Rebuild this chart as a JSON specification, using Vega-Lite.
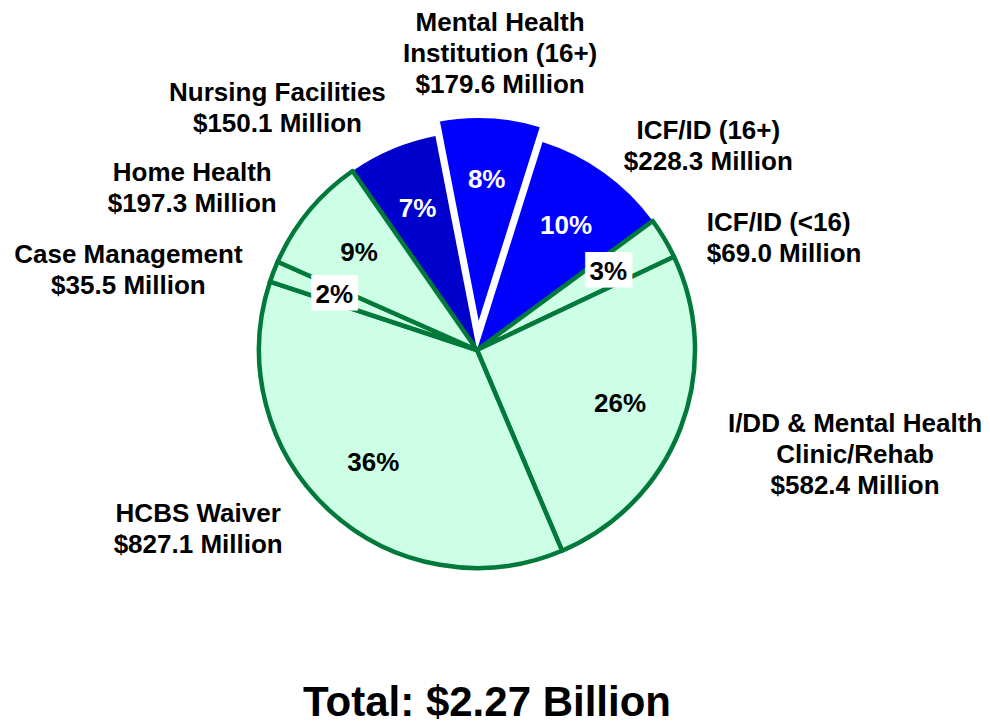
{
  "$schema": "https://vega.github.io/schema/vega-lite/v6.json",
  "width": 954,
  "height": 700,
  "autosize": {"type": "none"},
  "padding": {"left": 0, "top": 0, "right": 36, "bottom": 21},
  "background": "white",
  "config": {"view": {"stroke": null}, "text": {"font": "Liberation Sans", "fontWeight": "bold"}},
  "title": {"text": "Total: $2.27 Billion", "orient": "bottom", "anchor": "middle", "font": "Liberation Sans", "fontWeight": "bold", "fontSize": 42, "color": "black", "baseline": "alphabetic", "offset": 16, "dx": 10},
  "data": {"values": [
    {"order": 1, "category": "Mental Health Institution (16+)", "name": "Mental Health|Institution (16+)", "amount": 179.6, "setting": "Institutional"},
    {"order": 2, "category": "ICF/ID (16+)", "name": "ICF/ID (16+)", "amount": 228.3, "setting": "Institutional"},
    {"order": 3, "category": "ICF/ID (<16)", "name": "ICF/ID (<16)", "amount": 69.0, "setting": "Community"},
    {"order": 4, "category": "I/DD & Mental Health Clinic/Rehab", "name": "I/DD & Mental Health|Clinic/Rehab", "amount": 582.4, "setting": "Community"},
    {"order": 5, "category": "HCBS Waiver", "name": "HCBS Waiver", "amount": 827.1, "setting": "Community"},
    {"order": 6, "category": "Case Management", "name": "Case Management", "amount": 35.5, "setting": "Community"},
    {"order": 7, "category": "Home Health", "name": "Home Health", "amount": 197.3, "setting": "Community"},
    {"order": 8, "category": "Nursing Facilities", "name": "Nursing Facilities", "amount": 150.1, "setting": "Institutional"}
  ]},
  "transform": [
    {"joinaggregate": [{"op": "sum", "field": "amount", "as": "total"}]},
    {"stack": "amount", "groupby": [], "sort": [{"field": "order", "order": "ascending"}], "as": ["t0", "t1"]},
    {"calculate": "(datum.t0 + datum.t1) / 2", "as": "mid"},
    {"calculate": "format(datum.amount / datum.total, '.0%')", "as": "pct"},
    {"calculate": "datum.name + '|$' + format(datum.amount, '.1f') + ' Million'", "as": "label"}
  ],
  "encoding": {
    "theta": {"field": "t1", "type": "quantitative", "scale": {"type": "linear", "zero": true, "nice": false, "range": [-0.192, 6.0912]}}
  },
  "layer": [
    {
      "transform": [{"filter": "datum.setting === 'Institutional' && datum.order !== 1"}],
      "mark": {"type": "arc", "radius": 218, "strokeWidth": 0},
      "encoding": {
        "theta": {"field": "t1", "type": "quantitative"},
        "theta2": {"field": "t0"},
        "color": {"field": "category", "type": "nominal", "legend": null,
          "scale": {"domain": ["Mental Health Institution (16+)", "ICF/ID (16+)", "ICF/ID (<16)", "I/DD & Mental Health Clinic/Rehab", "HCBS Waiver", "Case Management", "Home Health", "Nursing Facilities"],
                    "range": ["#0000FF", "#0000FF", "#CCFFE5", "#CCFFE5", "#CCFFE5", "#CCFFE5", "#CCFFE5", "#0000CC"]}}
      }
    },
    {
      "transform": [{"filter": "datum.setting === 'Community'"}],
      "mark": {"type": "arc", "radius": 218, "stroke": "#00793A", "strokeWidth": 4.5, "strokeJoin": "round"},
      "encoding": {
        "theta": {"field": "t1", "type": "quantitative"},
        "theta2": {"field": "t0"},
        "color": {"field": "category", "type": "nominal", "legend": null}
      }
    },
    {
      "transform": [{"filter": "datum.order === 1"}],
      "mark": {"type": "arc", "radius": 218, "stroke": "white", "strokeWidth": 6, "xOffset": 1, "yOffset": -17},
      "encoding": {
        "theta": {"field": "t1", "type": "quantitative"},
        "theta2": {"field": "t0"},
        "color": {"field": "category", "type": "nominal", "legend": null}
      }
    },
    {
      "transform": [{"filter": "datum.category === 'Case Management' || datum.category === 'ICF/ID (<16)'"}],
      "mark": {"type": "text", "radius": 153, "text": "██", "font": "DejaVu Sans", "fontWeight": "normal", "fontSize": 30, "color": "white", "align": "center", "baseline": "middle", "dy": -1},
      "encoding": {
        "theta": {"field": "mid", "type": "quantitative", "stack": null}
      }
    },
    {
      "transform": [{"filter": "datum.order !== 1"}],
      "mark": {"type": "text", "radius": 153, "fontSize": 26, "align": "center", "baseline": "middle"},
      "encoding": {
        "theta": {"field": "mid", "type": "quantitative", "stack": null},
        "text": {"field": "pct"},
        "color": {"condition": {"test": "datum.setting === 'Institutional'", "value": "white"}, "value": "black"}
      }
    },
    {
      "transform": [{"filter": "datum.order === 1"}],
      "mark": {"type": "text", "radius": 153, "fontSize": 26, "align": "center", "baseline": "middle", "color": "white", "dx": 1, "dy": -17},
      "encoding": {
        "theta": {"field": "mid", "type": "quantitative", "stack": null},
        "text": {"field": "pct"}
      }
    },
    {
      "transform": [{"filter": "datum.order === 1"}],
      "mark": {"type": "text", "radius": 320, "fontSize": 26, "lineBreak": "|", "lineHeight": 31, "align": "center", "baseline": "middle", "color": "black", "dx": 5, "dy": -8},
      "encoding": {"theta": {"field": "mid", "type": "quantitative", "stack": null}, "text": {"field": "label"}}
    },
    {
      "transform": [{"filter": "datum.order === 2"}],
      "mark": {"type": "text", "radius": 320, "fontSize": 26, "lineBreak": "|", "lineHeight": 31, "align": "center", "baseline": "middle", "color": "black", "dx": 45, "dy": 41.5},
      "encoding": {"theta": {"field": "mid", "type": "quantitative", "stack": null}, "text": {"field": "label"}}
    },
    {
      "transform": [{"filter": "datum.order === 3"}],
      "mark": {"type": "text", "radius": 320, "fontSize": 26, "lineBreak": "|", "lineHeight": 31, "align": "left", "baseline": "middle", "color": "black", "dx": -45, "dy": 36.5},
      "encoding": {"theta": {"field": "mid", "type": "quantitative", "stack": null}, "text": {"field": "label"}}
    },
    {
      "transform": [{"filter": "datum.order === 4"}],
      "mark": {"type": "text", "radius": 320, "fontSize": 26, "lineBreak": "|", "lineHeight": 31, "align": "center", "baseline": "middle", "color": "black", "dx": 79, "dy": -40},
      "encoding": {"theta": {"field": "mid", "type": "quantitative", "stack": null}, "text": {"field": "label"}}
    },
    {
      "transform": [{"filter": "datum.order === 5"}],
      "mark": {"type": "text", "radius": 320, "fontSize": 26, "lineBreak": "|", "lineHeight": 31, "align": "center", "baseline": "middle", "color": "black", "dx": -62, "dy": -71.5},
      "encoding": {"theta": {"field": "mid", "type": "quantitative", "stack": null}, "text": {"field": "label"}}
    },
    {
      "transform": [{"filter": "datum.order === 6"}],
      "mark": {"type": "text", "radius": 320, "fontSize": 26, "lineBreak": "|", "lineHeight": 31, "align": "center", "baseline": "middle", "color": "black", "dx": -50, "dy": 20.5},
      "encoding": {"theta": {"field": "mid", "type": "quantitative", "stack": null}, "text": {"field": "label"}}
    },
    {
      "transform": [{"filter": "datum.order === 7"}],
      "mark": {"type": "text", "radius": 320, "fontSize": 26, "lineBreak": "|", "lineHeight": 31, "align": "center", "baseline": "middle", "color": "black", "dx": -38, "dy": 26.5},
      "encoding": {"theta": {"field": "mid", "type": "quantitative", "stack": null}, "text": {"field": "label"}}
    },
    {
      "transform": [{"filter": "datum.order === 8"}],
      "mark": {"type": "text", "radius": 320, "fontSize": 26, "lineBreak": "|", "lineHeight": 31, "align": "center", "baseline": "middle", "color": "black", "dx": -75, "dy": 37.5},
      "encoding": {"theta": {"field": "mid", "type": "quantitative", "stack": null}, "text": {"field": "label"}}
    }
  ]
}
